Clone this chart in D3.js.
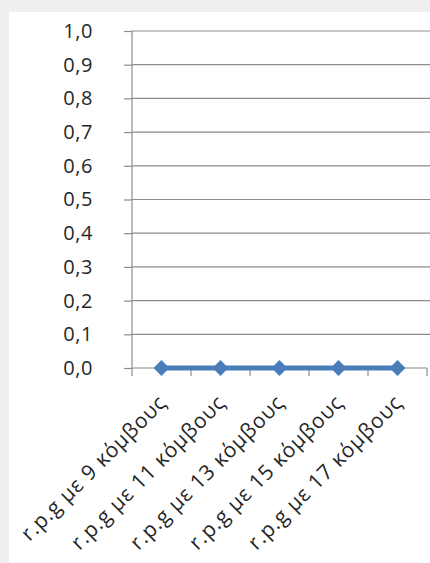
<!DOCTYPE html>
<html>
<head>
<meta charset="utf-8">
<script src="https://cdn.jsdelivr.net/npm/d3@7/dist/d3.min.js"></script>
<style>
  html, body { margin: 0; padding: 0; background: #efefef; }
  svg { display: block; }
</style>
</head>
<body>
<svg id="chart" width="430" height="563"></svg>
<script>
// Categories and values
const categories = [
  "r.p.g με 9 κόμβους",
  "r.p.g με 11 κόμβους",
  "r.p.g με 13 κόμβους",
  "r.p.g με 15 κόμβους",
  "r.p.g με 17 κόμβους"
];
const values = [0, 0, 0, 0, 0];
const yTicks = [0, 0.1, 0.2, 0.3, 0.4, 0.5, 0.6, 0.7, 0.8, 0.9, 1.0];

const svg = d3.select("#chart");
const W = 430, H = 563;

// white chart panel on a light grey frame
svg.append("rect").attr("x", 9).attr("y", 12).attr("width", W - 9).attr("height", H - 12)
  .attr("fill", "#ffffff");

const margin = { left: 132, top: 31, right: 3, bottom: 195 };
const x = d3.scaleBand().domain(categories).range([margin.left, W - margin.right]).padding(0);
const y = d3.scaleLinear().domain([0, 1]).range([H - margin.bottom, margin.top]);

const fontFam = "'Open Sans', 'DejaVu Sans', sans-serif";
const gridColor = "#8c8c8c";
const textColor = "#262626";

// value axis: outer ticks and labels
const yAxis = d3.axisLeft(y).tickValues(yTicks).tickSize(8)
  .tickFormat(d => d3.format(".1f")(d).replace(".", ","));
const gy = svg.append("g").attr("transform", `translate(${margin.left},0)`).call(yAxis);
gy.select(".domain").remove();
gy.selectAll(".tick line").attr("stroke", gridColor).attr("stroke-width", 1.2);
gy.selectAll(".tick text").attr("x", -39).attr("fill", textColor).attr("font-size", 20)
  .attr("letter-spacing", 0.6).attr("font-family", fontFam);

// horizontal gridlines
svg.append("g").selectAll("line").data(yTicks.filter(d => d > 0)).join("line")
  .attr("x1", margin.left).attr("x2", W)
  .attr("y1", d => y(d)).attr("y2", d => y(d))
  .attr("stroke", gridColor).attr("stroke-width", 1.2);

// vertical value axis line
svg.append("line").attr("x1", margin.left).attr("x2", margin.left)
  .attr("y1", y(1)).attr("y2", y(0) + 8)
  .attr("stroke", gridColor).attr("stroke-width", 1.2);

// category axis with tick marks at band boundaries
svg.append("line").attr("x1", margin.left).attr("x2", W - margin.right)
  .attr("y1", y(0)).attr("y2", y(0)).attr("stroke", gridColor).attr("stroke-width", 1.2);
const bounds = categories.map(c => x(c)).concat([x(categories[categories.length - 1]) + x.bandwidth()]);
svg.append("g").selectAll("line").data(bounds.slice(1)).join("line")
  .attr("x1", d => d).attr("x2", d => d)
  .attr("y1", y(0)).attr("y2", y(0) + 8)
  .attr("stroke", gridColor).attr("stroke-width", 1.2);

// rotated category labels
svg.append("g").selectAll("text").data(categories).join("text")
  .attr("transform", d => `translate(${x(d) + x.bandwidth() / 2 + 6},${y(0) + 36}) rotate(-45)`)
  .attr("text-anchor", "end")
  .attr("fill", textColor).attr("font-size", 21).attr("letter-spacing", 0.8)
  .attr("font-family", fontFam)
  .text(d => d);

// series line and diamond markers
const pts = categories.map((c, i) => [x(c) + x.bandwidth() / 2, y(values[i])]);
svg.append("path").attr("d", d3.line()(pts))
  .attr("fill", "none").attr("stroke", "#4a7ebb").attr("stroke-width", 5);
svg.append("g").selectAll("path").data(pts).join("path")
  .attr("transform", d => `translate(${d[0]},${d[1]})`)
  .attr("d", d3.symbol().type(d3.symbolDiamond2).size(160))
  .attr("fill", "#4a7ebb");
</script>
</body>
</html>
